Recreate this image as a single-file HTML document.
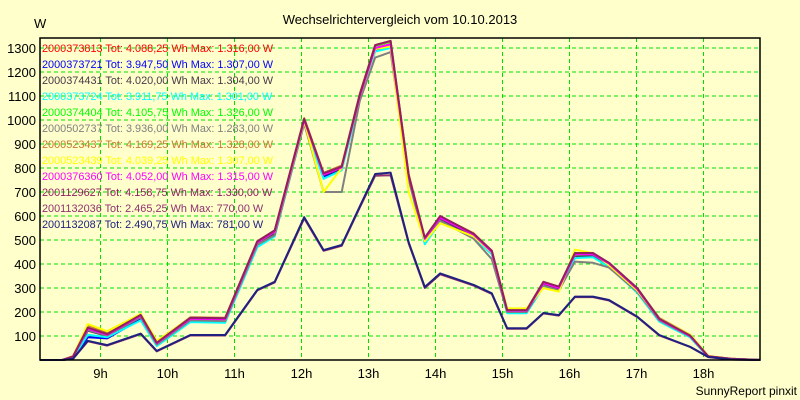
<!DOCTYPE html>
<html><head><meta charset="utf-8"><style>
body{margin:0;background:#ffffcc;}
svg{display:block;font-family:"Liberation Sans",sans-serif;}
</style></head><body>
<svg id="chart" width="800" height="400" viewBox="0 0 800 400">
<rect x="0" y="0" width="800" height="400" fill="#ffffcc"/>
<text x="400" y="24" text-anchor="middle" font-size="13" fill="#000">Wechselrichtervergleich vom 10.10.2013</text>
<text x="34" y="28" font-size="13" fill="#000">W</text>
<text x="797" y="395" text-anchor="end" font-size="12" fill="#000">SunnyReport pinxit</text>
<g id="grid"></g><g id="series"></g><g id="legend"></g><g id="axes"></g>
<rect x="40" y="38" width="720" height="322" fill="none" stroke="#000" stroke-width="1.5"/>
</svg>
<script>
const times=[8.1,8.43,8.59,8.81,9.1,9.6,9.84,10.34,10.86,11.34,11.6,12.04,12.33,12.6,12.87,13.1,13.33,13.6,13.84,14.07,14.57,14.84,15.07,15.36,15.61,15.84,16.08,16.35,16.59,17.01,17.34,17.8,18.07,18.41,18.85];
const yTicks=[100,200,300,400,500,600,700,800,900,1000,1100,1200,1300];
const xTicks=[9,10,11,12,13,14,15,16,17,18];
const names=["2000373813","2000373721","2000374431","2000373724","2000374404","2000502737","2000523437","2000523439","2000376360","2001129627","2001132036","2001132087"];
const totals=["4.088,25","3.947,50","4.020,00","3.911,75","4.105,75","3.936,00","4.169,25","4.039,25","4.052,00","4.158,75","2.465,25","2.490,75"];
const maxima=["1.316,00","1.307,00","1.304,00","1.301,00","1.326,00","1.283,00","1.328,00","1.307,00","1.315,00","1.330,00","770,00","781,00"];
const colors=["#ff0000","#0000ff","#483848","#00ffff","#00ff00","#808080","#c87830","#ffff00","#ff00ff","#902060","#903070","#202080"];
const s0=[0,0,12,125,100,180,68,168,168,488,532,1000,772,800,1095,1300,1316,765,500,588,520,448,205,205,318,298,435,438,398,292,168,98,14,4,0];
const s1=[0,0,5,95,90,170,60,160,160,480,525,990,765,795,1090,1290,1307,760,490,580,512,442,198,198,312,292,430,432,392,288,165,96,13,4,0];
const s2=[0,0,12,122,100,178,66,168,168,486,530,995,770,798,1095,1295,1304,762,500,585,518,446,204,204,316,296,432,436,396,290,166,97,14,4,0];
const s3=[0,0,10,105,95,165,58,158,155,470,515,985,755,790,1085,1285,1301,755,482,575,510,440,195,195,305,288,425,428,388,280,160,94,13,4,0];
const s4=[0,0,14,128,104,182,70,172,172,492,536,1005,778,805,1105,1310,1326,770,505,595,524,452,208,208,322,302,438,440,400,294,170,100,15,5,0];
const s5=[0,0,12,125,102,178,64,165,162,480,520,985,700,700,1080,1260,1283,750,495,580,505,420,200,200,310,290,410,405,385,285,165,98,14,4,0];
const s6=[0,0,16,145,115,190,75,178,176,495,540,1008,780,810,1110,1312,1328,775,508,598,528,455,210,210,325,305,440,442,404,298,175,105,16,5,0];
const s7=[0,0,15,150,120,192,80,176,170,490,535,995,700,800,1100,1295,1307,700,495,570,515,448,215,215,300,285,460,445,395,290,172,106,17,5,0];
const s8=[0,0,14,130,105,185,70,172,170,490,535,1000,772,802,1100,1300,1315,765,505,592,522,450,206,206,320,300,440,440,402,296,170,100,15,5,0];
const s9=[0,0,15,135,108,188,72,176,174,494,540,1005,778,806,1106,1312,1330,770,510,600,526,456,208,208,326,306,446,446,405,300,172,102,16,5,0];
const s10=[0,0,5,78,60,108,36,102,102,290,323,590,455,476,636,768,770,486,300,357,310,275,130,130,194,185,262,262,248,179,102,54,12,2,0];
const s11=[0,0,5,80,62,110,38,104,104,292,326,595,458,479,640,775,781,490,304,361,313,278,132,132,196,187,264,264,250,181,104,55,13,2,0];
const series=[s0,s1,s2,s3,s4,s5,s6,s7,s8,s9,s10,s11];
const NS="http://www.w3.org/2000/svg";
function xS(h){return 33.5+(h-8)*67;}
function yS(v){return 360-v*0.24;}
function mk(t,a,p){const e=document.createElementNS(NS,t);for(const k in a)e.setAttribute(k,a[k]);p.appendChild(e);return e;}
const grid=document.getElementById('grid'),axes=document.getElementById('axes'),sg=document.getElementById('series'),lg=document.getElementById('legend');
yTicks.forEach(v=>{
  const l=mk('line',{x1:40,x2:760,y1:yS(v),y2:yS(v),stroke:'#00e000','stroke-dasharray':'4,3','stroke-width':1},grid);
  
  
  const t=mk('text',{x:36,y:yS(v)+5,'text-anchor':'end','font-size':13,fill:'#000'},axes);
  t.textContent=v;
  
  
});
xTicks.forEach(h=>{
  const l=mk('line',{x1:xS(h),x2:xS(h),y1:38,y2:360,stroke:'#00e000','stroke-dasharray':'4,3','stroke-width':1},grid);
  
  
  const t=mk('text',{x:xS(h),y:378,'text-anchor':'middle','font-size':13,fill:'#000'},axes);
  t.textContent=h+'h';
  
  
});
series.forEach((s,i)=>{
  const p=mk('polyline',{points:s.map((v,j)=>xS(times[j]).toFixed(1)+','+yS(v).toFixed(1)).join(' '),fill:'none',stroke:colors[i],'stroke-width':2,'stroke-linejoin':'round'},sg);
  
  
  const t=mk('text',{x:42,y:52+i*16,'font-size':10.9,fill:colors[i]},lg);
  t.textContent=names[i]+' Tot: '+totals[i]+' Wh Max: '+maxima[i]+' W';
  
  
});
</script>
</body></html>
